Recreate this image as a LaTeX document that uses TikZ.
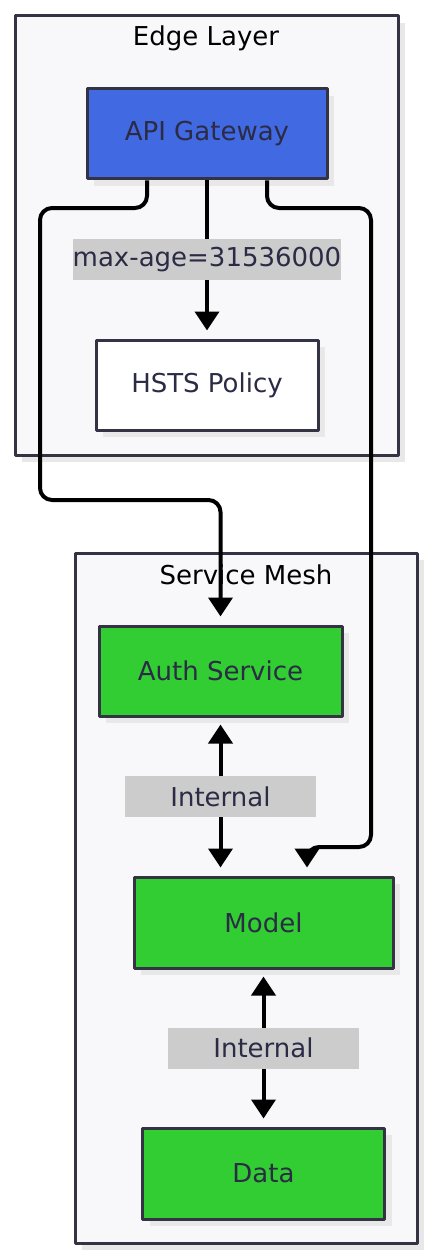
\documentclass[tikz,border=0pt]{standalone}
\usepackage{fontspec}
\setmainfont{DejaVu Sans}
\usetikzlibrary{arrows.meta,shadows}
\definecolor{gwblue}{HTML}{4169E1}
\definecolor{svcgreen}{HTML}{32CD32}
\definecolor{boxline}{HTML}{333344}
\definecolor{txt}{HTML}{2B2B45}
\definecolor{clfill}{HTML}{F8F8FA}
\definecolor{lblfill}{HTML}{CCCCCC}
\begin{document}
\begin{tikzpicture}[x=1pt,y=-1pt,>={Triangle[length=19pt,width=24pt]},font=\fontsize{26}{31}\selectfont,line join=round,
	shade/.style={drop shadow={shadow xshift=7pt,shadow yshift=-7pt,fill=black!9,opacity=1}},
	cluster/.style={draw=boxline,line width=3pt,fill=clfill,shade},
	box/.style={draw=boxline,line width=3pt,text=txt,inner sep=0pt,minimum height=90pt,shade},
	flow/.style={->,line width=4pt,shorten >=8pt,rounded corners=12pt},
	both/.style={<->,line width=4pt,shorten >=8pt,shorten <=7pt},
	lbl/.style={fill=lblfill,text=txt,sharp corners,inner sep=0pt,minimum height=41pt,minimum width=191pt}]
	\useasboundingbox (0,0) rectangle (433,1260);
	% groups
	\draw[cluster] (15,16) rectangle (398,455);
	\draw[cluster] (75,553) rectangle (417,1243);
	\node (edgettl) at (206,38) {Edge Layer};
	\node (meshttl) at (246,575) {Service Mesh};
	% nodes
	\node[box,fill=gwblue,minimum width=240pt] (gateway) at (207,134) {API Gateway};
	\node[box,fill=white,minimum width=222pt] (hsts) at (207,385) {HSTS Policy};
	\node[box,fill=svcgreen,minimum width=243pt] (auth) at (220.5,671) {Auth Service};
	\node[box,fill=svcgreen,minimum width=259pt,minimum height=91pt] (model) at (263.5,922.5) {Model};
	\node[box,fill=svcgreen,minimum width=242pt,minimum height=91pt] (data) at (263.5,1173.5) {Data};
	% edges
	\draw[flow] (gateway.south)--(hsts.north)node[lbl,midway,minimum width=0pt]{max-age=31536000};
	\draw[flow] ([xshift=-60pt]gateway.south) |- (40,208) -- (40,500) -| (auth.north);
	\draw[flow] ([xshift=60pt]gateway.south) |- (371,208) -- (371,847) -| ([xshift=43.5pt]model.north);
	\draw[both] (auth.south)--(model.north-|auth.south)node[lbl,midway]{Internal};
	\draw[both] (model.south)--(data.north)node[lbl,midway]{Internal};
\end{tikzpicture}
\end{document}
